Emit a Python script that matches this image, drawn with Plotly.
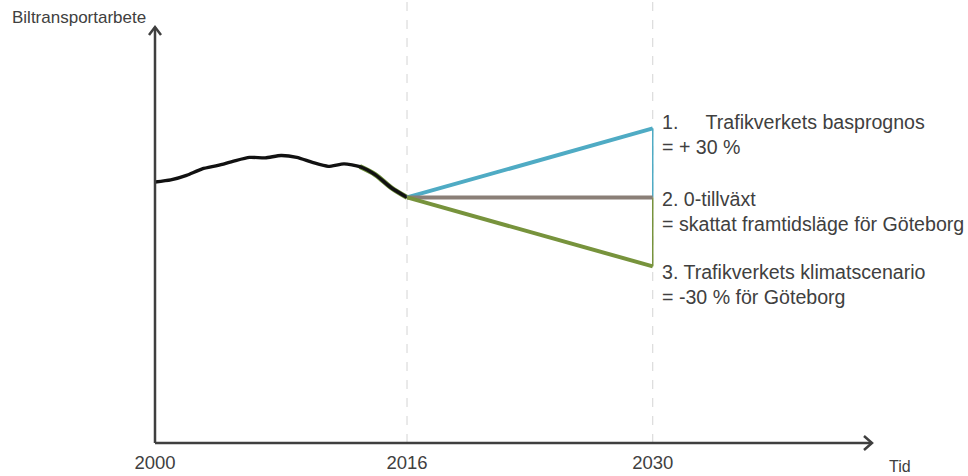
import plotly.graph_objects as go

# --- data -----------------------------------------------------------------
# Car traffic volume, index 2016 = 100
hist_years = list(range(2000, 2017))
hist_values = [106.7, 107.6, 109.6, 112.4, 113.9, 115.8, 117.4, 117.2, 118.2,
               117.4, 115.2, 113.5, 114.6, 113.4, 109.8, 104.2, 100.0]

scenario_years = [2016, 2030]
scenario_names = ["Trafikverkets basprognos", "0-tillväxt", "Trafikverkets klimatscenario"]
scenario_values = {
    "Trafikverkets basprognos": [100, 130],
    "0-tillväxt": [100, 100],
    "Trafikverkets klimatscenario": [100, 70],
}
scenario_colors = {
    "Trafikverkets basprognos": "#4FABC4",
    "0-tillväxt": "#8A7F77",
    "Trafikverkets klimatscenario": "#77933C",
}
scenario_labels = [
    "1.\u00a0\u00a0\u00a0\u00a0\u00a0Trafikverkets basprognos<br>= + 30 %",
    "2. 0-tillväxt<br>= skattat framtidsläge för Göteborg",
    "3. Trafikverkets klimatscenario<br>= -30 % för Göteborg",
]
label_shift = [-6, -14, -18]

tick_years = [2000, 2016, 2030]
tick_text = ["2000", "2016", "2030"]

TEXT = "#404040"
FONT = "Liberation Sans, Arial, sans-serif"


# History (2000-2016) and forecast (2016-2030) are drawn as two periods of
# almost equal width on the time axis.
def tpos(year):
    if year <= 2016:
        return (year - 2000) / 16
    return 1 + (year - 2016) / 14 * 0.975


X_MAX = 2.845
Y_MIN, Y_MAX = -6.8, 174.1

fig = go.Figure()

# green trace shows through under the last part of the history line
tail = [i for i, y in enumerate(hist_years) if y >= 2013]
fig.add_trace(go.Scatter(
    x=[tpos(hist_years[i]) for i in tail], y=[hist_values[i] for i in tail],
    mode="lines", line=dict(color="#6E8F3A", width=5, shape="spline"),
    hoverinfo="skip", showlegend=False))
fig.add_trace(go.Scatter(
    x=[tpos(y) for y in hist_years], y=hist_values, mode="lines",
    line=dict(color="#111111", width=3.4, shape="spline", smoothing=0.6),
    showlegend=False, name="Historik"))

# bracket lines at 2030 joining the scenario end points
top = scenario_values["Trafikverkets basprognos"][1]
mid = scenario_values["0-tillväxt"][1]
low = scenario_values["Trafikverkets klimatscenario"][1]
fig.add_trace(go.Scatter(x=[tpos(2030)] * 2, y=[top, mid], mode="lines",
                         line=dict(color=scenario_colors["Trafikverkets basprognos"], width=1.5),
                         showlegend=False, hoverinfo="skip"))
fig.add_trace(go.Scatter(x=[tpos(2030)] * 2, y=[mid, low], mode="lines",
                         line=dict(color=scenario_colors["Trafikverkets klimatscenario"], width=1.5),
                         showlegend=False, hoverinfo="skip"))

for name in scenario_names:
    fig.add_trace(go.Scatter(
        x=[tpos(y) for y in scenario_years], y=scenario_values[name], mode="lines",
        line=dict(color=scenario_colors[name], width=4), name=name, showlegend=False))

# dashed period markers
for yr in [2016, 2030]:
    fig.add_shape(type="line", xref="x", yref="paper", x0=tpos(yr), x1=tpos(yr),
                  y0=0, y1=1.07, line=dict(color="#D4D4D4", width=1, dash="dash"),
                  layer="below")

# axes with open arrow heads
AX = dict(color="#3F3F3F", width=2.5)
fig.add_shape(type="line", xref="paper", yref="paper", x0=0, x1=1, y0=0, y1=0, line=AX)
fig.add_shape(type="line", xref="paper", yref="paper", x0=0, x1=0, y0=0, y1=1, line=AX)
fig.add_shape(type="path", xref="paper", yref="paper", xsizemode="pixel", ysizemode="pixel",
              xanchor=1, yanchor=0, path="M -8,7 L 0,0 L -8,-7", line=AX)
fig.add_shape(type="path", xref="paper", yref="paper", xsizemode="pixel", ysizemode="pixel",
              xanchor=0, yanchor=1, path="M -6,-8 L 0,0 L 6,-8", line=AX)

# scenario descriptions
for name, text, shift in zip(scenario_names, scenario_labels, label_shift):
    fig.add_annotation(x=tpos(2030), y=scenario_values[name][1], text=text,
                       xanchor="left", yanchor="middle", align="left",
                       xshift=7, yshift=shift, showarrow=False,
                       font=dict(size=19.6, color=TEXT, family=FONT))

fig.add_annotation(x=-0.106, y=1.024, xref="paper", yref="paper", text="Biltransportarbete",
                   xanchor="center", yanchor="middle", showarrow=False,
                   font=dict(size=17, color=TEXT, family=FONT))
fig.add_annotation(x=1.0, y=0, xref="paper", yref="paper", text="Tid",
                   xanchor="center", yanchor="middle", showarrow=False,
                   xshift=28, yshift=-23, font=dict(size=16, color=TEXT, family=FONT))

fig.update_layout(
    width=968, height=476,
    margin=dict(l=155, r=96, t=27, b=33),
    paper_bgcolor="white", plot_bgcolor="white",
    font=dict(family=FONT, color=TEXT),
    xaxis=dict(range=[0, X_MAX], tickvals=[tpos(y) for y in tick_years], ticktext=tick_text,
               showgrid=False, zeroline=False, showline=False, ticks="", automargin=False,
               tickfont=dict(size=18.5, color=TEXT), ticklabelstandoff=6),
    yaxis=dict(range=[Y_MIN, Y_MAX], showgrid=False, zeroline=False, showline=False,
               showticklabels=False, ticks="", automargin=False),
)

fig.write_html("out.html")
